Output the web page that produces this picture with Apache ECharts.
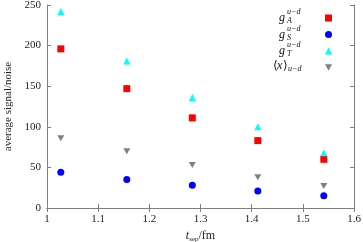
<!DOCTYPE html>
<html><head><meta charset="utf-8">
<script src="https://cdn.jsdelivr.net/npm/echarts@6/dist/echarts.min.js"></script>
<style>html,body{margin:0;padding:0;background:#fff}#c{width:363px;height:242px}</style>
</head><body><div id="c"></div>
<script>
const tsep = [1.027, 1.156, 1.284, 1.412, 1.541];
const gA = [196, 147, 111, 83, 60];
const gS = [44, 35, 28, 21, 15];
const gT = [242, 181, 136, 100, 68];
const xMom = [86, 70, 53, 38, 27];
const names = ['gA', 'gS', 'gT', 'x'];
const colors = ['#ff0000', '#0000ff', '#00ffff', '#808080'];
const symbols = ['rect', 'circle', 'triangle', 'path://M0,0 L10,0 L5,9 Z'];
const values = [gA, gS, gT, xMom];

const F = '"Liberation Serif", "DejaVu Serif", serif';
const chart = echarts.init(document.getElementById('c'), null, {renderer: 'canvas'});
const axisCommon = {
  axisLine: {lineStyle: {color: '#7f7f7f', width: 1}},
  axisTick: {inside: true, length: 4, lineStyle: {color: '#7f7f7f'}},
  splitLine: {show: false}
};
const series = names.map((n, i) => ({
  name: n, type: 'scatter',
  data: tsep.map((x, j) => [x, values[i][j]]),
  symbol: symbols[i], symbolSize: i === 3 ? [7, 6] : 7,
  itemStyle: {color: colors[i], opacity: 1},
  emphasis: {disabled: true}
}));
const rowY = [17, 33.5, 50, 66];
const gfx = [];
const subs = ['A', 'S', 'T'];
const TC = '#111';
for (let k = 0; k < 3; k++) {
  gfx.push({type: 'text', x: 279, y: rowY[k] + 1, style: {text: 'g', font: 'italic 12px ' + F, fill: TC, textVerticalAlign: 'middle'}});
  gfx.push({type: 'text', x: 287, y: rowY[k] - 5, style: {text: 'u−d', font: 'italic 8px ' + F, fill: TC, textVerticalAlign: 'middle'}});
  gfx.push({type: 'text', x: 287, y: rowY[k] + 4, style: {text: subs[k], font: 'italic 8px ' + F, fill: TC, textVerticalAlign: 'middle'}});
}
gfx.push({type: 'text', x: 273, y: rowY[3], style: {text: '⟨', font: '12px ' + F, fill: TC, textVerticalAlign: 'middle'}});
gfx.push({type: 'text', x: 277, y: rowY[3], style: {text: 'x', font: 'italic 12px ' + F, fill: TC, textVerticalAlign: 'middle'}});
gfx.push({type: 'text', x: 283, y: rowY[3], style: {text: '⟩', font: '12px ' + F, fill: TC, textVerticalAlign: 'middle'}});
gfx.push({type: 'text', x: 288, y: rowY[3] + 3, style: {text: 'u−d', font: 'italic 8px ' + F, fill: TC, textVerticalAlign: 'middle'}});

chart.setOption({
  animation: false,
  backgroundColor: '#fff',
  grid: {left: 47, right: 9, top: 5, bottom: 34, containLabel: false, outerBoundsMode: 'none'},
  legend: {
    orient: 'vertical', left: 320, top: 9.5, itemWidth: 7, itemHeight: 7, itemGap: 9.5,
    formatter: () => '', textStyle: {fontSize: 1, padding: 0}, data: names.map((n, i) => ({name: n, icon: symbols[i], itemStyle: {color: colors[i], opacity: 1}})),
    selectedMode: false
  },
  xAxis: [
    Object.assign({type: 'value', min: 1, max: 1.6, interval: 0.1, position: 'bottom',
      axisLabel: {color: '#222', fontFamily: F, fontSize: 11, margin: 6},
      name: '{i|t}{s|sep}/fm', nameLocation: 'middle', nameGap: 17,
      nameTextStyle: {rich: {
        i: {fontFamily: F, fontStyle: 'italic', fontSize: 12, color: '#222', verticalAlign: 'middle'},
        s: {fontFamily: F, fontSize: 7, color: '#222', verticalAlign: 'bottom', padding: [6, 0, 0, 0]},
      }, fontFamily: F, fontSize: 12, color: '#222'}}, axisCommon),
    Object.assign({type: 'value', min: 1, max: 1.6, interval: 0.1, position: 'top', axisLabel: {show: false}}, axisCommon)
  ],
  yAxis: [
    Object.assign({type: 'value', min: 0, max: 250, interval: 50, position: 'left',
      axisLabel: {color: '#222', fontFamily: F, fontSize: 11, margin: 6},
      name: 'average signal/noise', nameLocation: 'middle', nameGap: 33,
      nameTextStyle: {fontFamily: F, fontSize: 11, color: '#222'}}, axisCommon),
    Object.assign({type: 'value', min: 0, max: 250, interval: 50, position: 'right', axisLabel: {show: false}}, axisCommon)
  ],
  series: series,
  graphic: gfx
});
</script></body></html>
